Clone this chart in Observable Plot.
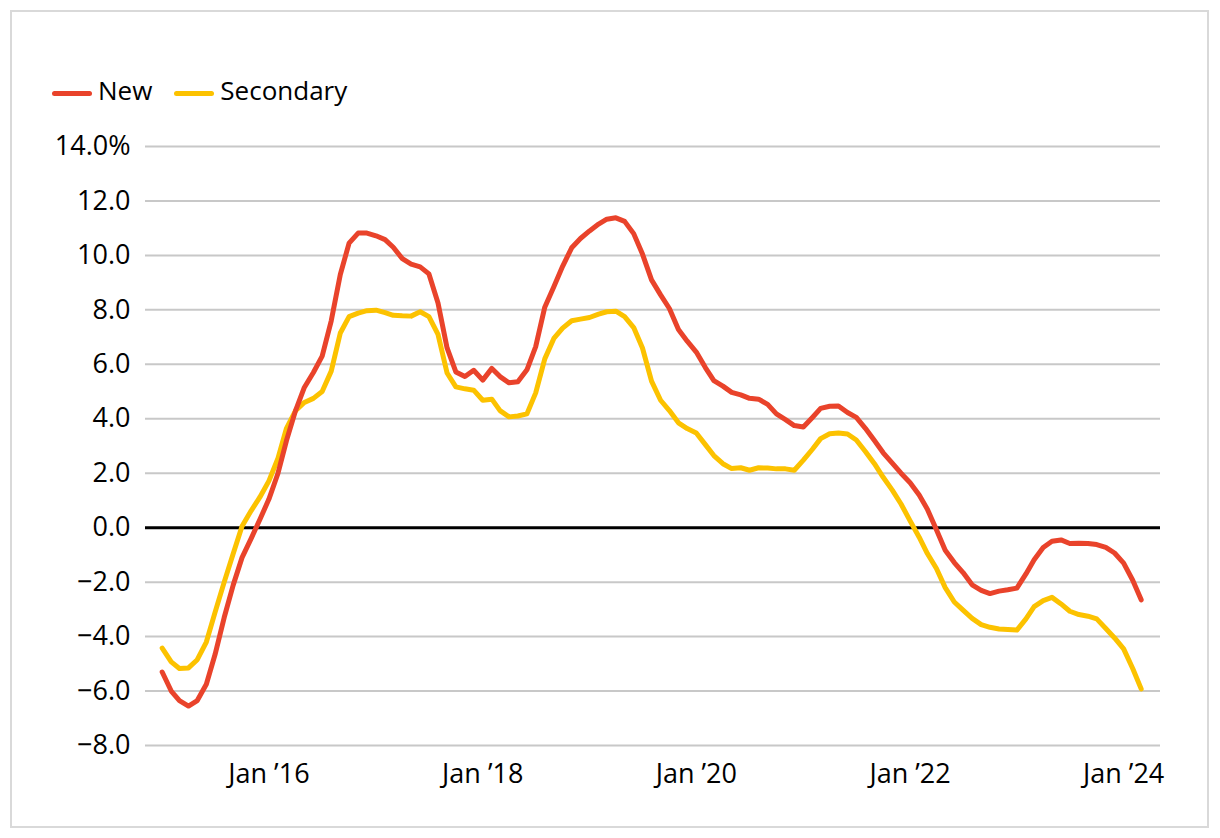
<!DOCTYPE html>
<html><head><meta charset="utf-8">
<script src="https://cdn.jsdelivr.net/npm/d3@7"></script>
<script src="https://cdn.jsdelivr.net/npm/@observablehq/plot@0.6"></script>
<style>
body{margin:0;background:#fff;font-family:"Open Sans",sans-serif;}
#wrap{position:relative;width:1220px;height:838px;overflow:hidden;background:#fff;}
#frame{position:absolute;left:10px;top:10px;width:1199px;height:818px;border:2px solid #d9d9d9;box-sizing:border-box;}
#legend{position:absolute;left:52px;top:74px;display:flex;align-items:center;font-size:26px;line-height:32px;color:#000;}
.item{display:flex;align-items:center;margin-right:22px;}
.sw{display:inline-block;width:40px;height:5px;border-radius:3px;margin-right:6px;position:relative;top:3px;}
#chart{position:absolute;left:0;top:0;}
</style></head>
<body><div id="wrap"><div id="frame"></div><div id="chart"></div><div id="legend"></div></div>
<script>
// Monthly year-on-year price growth, Jan 2015 – Mar 2024
const startMonth = new Date(Date.UTC(2015, 0, 1));
const newValues = [
  -5.3, -6.0, -6.35, -6.55, -6.35, -5.75, -4.65, -3.3, -2.1, -1.1,
  -0.4, 0.3, 1.05, 2.0, 3.2, 4.3, 5.15, 5.7, 6.3, 7.6,
  9.3, 10.45, 10.82, 10.82, 10.72, 10.58, 10.3, 9.88, 9.68, 9.58,
  9.32, 8.25, 6.6, 5.72, 5.55, 5.78, 5.42, 5.85, 5.55, 5.32,
  5.36, 5.8, 6.65, 8.1, 8.85, 9.6, 10.28, 10.62, 10.9, 11.15,
  11.33, 11.38, 11.25, 10.8, 10.05, 9.1, 8.55, 8.05, 7.28, 6.85,
  6.45, 5.88, 5.4, 5.2, 4.97, 4.88, 4.75, 4.72, 4.53, 4.18,
  3.97, 3.75, 3.7, 4.05, 4.38, 4.46, 4.47, 4.23, 4.05, 3.65,
  3.2, 2.75, 2.37, 2.0, 1.65, 1.2, 0.68, -0.08, -0.83, -1.28,
  -1.65, -2.1, -2.3, -2.42, -2.33, -2.28, -2.22, -1.7, -1.18, -0.73,
  -0.5, -0.45, -0.58, -0.57, -0.58, -0.62, -0.72, -0.93, -1.3, -1.93, -2.65
];
const secondaryValues = [
  -4.42, -4.93, -5.17, -5.15, -4.85, -4.2, -3.1, -2.0, -0.95, 0.05,
  0.62, 1.12, 1.72, 2.55, 3.65, 4.3, 4.6, 4.75, 5.0, 5.75,
  7.15, 7.75, 7.88, 7.97, 7.99, 7.9, 7.8, 7.78, 7.77, 7.93,
  7.75, 7.1, 5.68, 5.17, 5.1, 5.05, 4.68, 4.72, 4.3, 4.07,
  4.1, 4.18, 4.95, 6.2, 6.95, 7.33, 7.6, 7.66, 7.72, 7.84,
  7.93, 7.95, 7.75, 7.35, 6.6, 5.38, 4.68, 4.3, 3.85, 3.64,
  3.48, 3.05, 2.65, 2.35, 2.17, 2.2, 2.11, 2.2, 2.19, 2.16,
  2.16, 2.11, 2.48, 2.88, 3.27, 3.45, 3.48, 3.44, 3.22, 2.8,
  2.35, 1.85, 1.38, 0.87, 0.25, -0.35, -0.95, -1.5, -2.2, -2.73,
  -3.03, -3.33, -3.56, -3.66, -3.72, -3.74, -3.76, -3.35, -2.9, -2.68,
  -2.56, -2.8, -3.07, -3.19, -3.25, -3.35, -3.7, -4.05, -4.45, -5.17, -5.92
];
const seriesNames = ["New", "Secondary"];
const seriesColors = ["#e9432b", "#fcc200"];
const yTicks = [14, 12, 10, 8, 6, 4, 2, 0, -2, -4, -6, -8];
const yTickLabels = ["14.0%", "12.0", "10.0", "8.0", "6.0", "4.0", "2.0", "0.0", "\u22122.0", "\u22124.0", "\u22126.0", "\u22128.0"];
const xTickYears = [2016, 2018, 2020, 2022, 2024];
const xTickLabels = ["Jan \u201916", "Jan \u201918", "Jan \u201920", "Jan \u201922", "Jan \u201924"];

const months = newValues.map((_, i) => d3.utcMonth.offset(startMonth, i));
const rows = [];
seriesNames.forEach((s, k) => {
  const vals = k === 0 ? newValues : secondaryValues;
  vals.forEach((v, i) => rows.push({series: s, date: months[i], value: v}));
});
const xTicks = xTickYears.map(y => new Date(Date.UTC(y, 0, 1)));
const xLabelMap = new Map(xTicks.map((d, i) => [+d, xTickLabels[i]]));
const yLabelMap = new Map(yTicks.map((d, i) => [d, yTickLabels[i]]));

const chart = Plot.plot({
  width: 1220,
  height: 838,
  marginLeft: 145,
  marginRight: 60,
  marginTop: 146,
  marginBottom: 93,
  style: {fontFamily: "'Open Sans', sans-serif", fontSize: "27px", color: "#000", background: "transparent"},
  x: {type: "utc", domain: [d3.utcDay.offset(months[0], -57), d3.utcDay.offset(months[months.length - 1], 66)]},
  y: {domain: [-8, 14]},
  color: {domain: seriesNames, range: seriesColors},
  marks: [
    Plot.ruleY(yTicks.filter(d => d !== 0), {stroke: "#c8c8c8", strokeWidth: 2}),
    Plot.ruleY([0], {stroke: "#000", strokeWidth: 3}),
    Plot.axisY({ticks: yTicks, tickSize: 0, tickPadding: 15, tickFormat: d => yLabelMap.get(d), fontSize: 27, label: null}),
    Plot.axisX({ticks: xTicks, tickSize: 0, tickPadding: 18, tickFormat: d => xLabelMap.get(+d), fontSize: 27, label: null}),
    Plot.lineY(rows.filter(d => d.series === "Secondary"), {x: "date", y: "value", stroke: "series", strokeWidth: 5, strokeLinejoin: "round", strokeLinecap: "round"}),
    Plot.lineY(rows.filter(d => d.series === "New"), {x: "date", y: "value", stroke: "series", strokeWidth: 5, strokeLinejoin: "round", strokeLinecap: "round"})
  ]
});
document.getElementById("chart").appendChild(chart);

const legend = document.getElementById("legend");
seriesNames.forEach((s, k) => {
  const item = document.createElement("span");
  item.className = "item";
  const sw = document.createElement("span");
  sw.className = "sw";
  sw.style.background = seriesColors[k];
  const t = document.createElement("span");
  t.textContent = s;
  item.appendChild(sw);
  item.appendChild(t);
  legend.appendChild(item);
});
</script>
</body></html>
